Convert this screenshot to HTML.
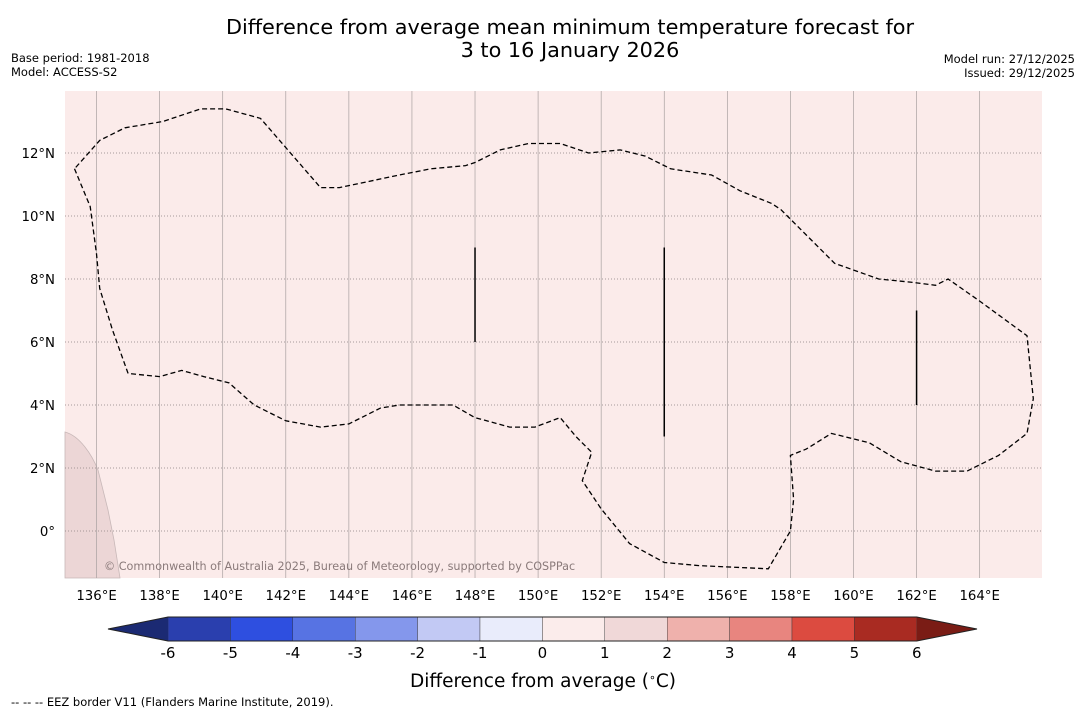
<!DOCTYPE html>
<html><head><meta charset="utf-8"><style>
body{margin:0;background:#fff;font-family:"Liberation Sans","DejaVu Sans",sans-serif;}
</style></head><body>
<svg width="1085" height="713" xmlns="http://www.w3.org/2000/svg" font-family="DejaVu Sans, Liberation Sans, sans-serif">
<text x="570" y="34" text-anchor="middle" font-size="20.8">Difference from average mean minimum temperature forecast for</text>
<text x="570" y="57" text-anchor="middle" font-size="20.8">3 to 16 January 2026</text>
<text x="11" y="62" font-size="11.5">Base period: 1981-2018</text>
<text x="11" y="76" font-size="11.5">Model: ACCESS-S2</text>
<text x="1075" y="63" font-size="11.5" text-anchor="end">Model run: 27/12/2025</text>
<text x="1075" y="77" font-size="11.5" text-anchor="end">Issued: 29/12/2025</text>
<rect x="65" y="91" width="977" height="487" fill="#fbebea"/>
<path d="M65,432 C80,436 92,455 98,470 L108,510 L114,540 L120,578 L65,578 Z" fill="#ecd6d6" stroke="#c8b8b8" stroke-width="0.8"/>
<g id="grid"></g>
<g id="eez"></g>
<g id="axes"></g>
<text x="104" y="570" font-size="11.2" fill="#8a7a7a">© Commonwealth of Australia 2025, Bureau of Meteorology, supported by COSPPac</text>
<g id="cbar"></g>
<text x="543" y="687" text-anchor="middle" font-size="18.5">Difference from average (<tspan baseline-shift="super" font-size="11">∘</tspan>C)</text>
<text x="11" y="706" font-size="11.5">--  --  -- EEZ border V11 (Flanders Marine Institute, 2019).</text>
</svg>
<script>
const lonTicks=[136,138,140,142,144,146,148,150,152,154,156,158,160,162,164];
const latTicks=[0,2,4,6,8,10,12];
const eezLon=[135.3,135.8,136.0,136.1,136.5,137.0,138.0,138.7,139.4,140.2,141.0,142.0,143.1,144.0,145.0,145.6,146.6,147.3,148.0,149.1,149.9,150.7,151.2,151.7,151.4,152.0,152.9,154.0,155.1,157.3,158.0,158.1,158.0,158.5,159.3,160.5,161.5,162.6,163.6,164.6,165.5,165.7,165.5,164.0,163.0,162.6,161.8,160.8,159.4,157.7,157.4,156.4,155.5,154.2,153.4,152.6,151.6,150.7,149.7,148.8,148.0,147.7,146.6,145.6,143.7,143.1,141.2,140.1,139.3,138.1,136.9,136.1,135.3];
const eezLat=[11.5,10.3,8.8,7.7,6.4,5.0,4.9,5.1,4.9,4.7,4.0,3.5,3.3,3.4,3.9,4.0,4.0,4.0,3.6,3.3,3.3,3.6,3.0,2.5,1.6,0.7,-0.4,-1.0,-1.1,-1.2,0.0,1.0,2.4,2.6,3.1,2.8,2.2,1.9,1.9,2.4,3.1,4.2,6.2,7.3,8.0,7.8,7.9,8.0,8.5,10.2,10.4,10.8,11.3,11.5,11.9,12.1,12.0,12.3,12.3,12.1,11.7,11.6,11.5,11.3,10.9,10.9,13.1,13.4,13.4,13.0,12.8,12.4,11.5];
const segLon=[148,154,162];
const segLat0=[6,3,4];
const segLat1=[9,9,7];
const cbLevels=[-6,-5,-4,-3,-2,-1,0,1,2,3,4,5,6];
const cbColors=["#2a3fae","#2e4fe0","#5773e3","#8497ec","#c2c9f4","#e9ecfb","#fbeceb","#f0d8d8","#efb1ac","#e8857f","#dc4b40","#a92b22"];
const NS="http://www.w3.org/2000/svg";
const X=lon=>65+(lon-135)*31.54;
const Y=lat=>531-lat*31.5;
function mk(t,a,p){const e=document.createElementNS(NS,t);for(const k in a)e.setAttribute(k,a[k]);p.appendChild(e);return e;}
const grid=document.getElementById('grid'),axes=document.getElementById('axes'),eez=document.getElementById('eez'),cbar=document.getElementById('cbar');
lonTicks.forEach(l=>{
 const ln=mk('line',{x1:X(l),x2:X(l),y1:91,y2:578,stroke:'#a8a0a0','stroke-width':0.7},grid);
 
 
 const t=mk('text',{x:X(l),y:600,'text-anchor':'middle','font-size':13.3},axes);t.textContent=l+'°E';
 
 
});
latTicks.forEach(l=>{
 const ln=mk('line',{x1:65,x2:1042,y1:Y(l),y2:Y(l),stroke:'#8a8080','stroke-width':0.8,'stroke-dasharray':'1,2'},grid);
 
 
 const t=mk('text',{x:55,y:Y(l)+5,'text-anchor':'end','font-size':13.3},axes);t.textContent=l===0?'0°':l+'°N';
 
 
});
const pts=eezLon.map((l,i)=>X(l).toFixed(1)+','+Y(eezLat[i]).toFixed(1)).join(' ');
const pl=mk('polyline',{points:pts,fill:'none',stroke:'#000','stroke-width':1.3,'stroke-dasharray':'5,3'},eez);


segLon.forEach((l,i)=>{
 const s=mk('line',{x1:X(l),x2:X(l),y1:Y(segLat0[i]),y2:Y(segLat1[i]),stroke:'#000','stroke-width':1.5},eez);
 
 
});
const cx0=168,cw=62.4,cy=617,ch=24;
const CX=v=>cx0+(v-cbLevels[0])*cw;
cbColors.forEach((c,i)=>{
 const r=mk('rect',{x:CX(cbLevels[i]),y:cy,width:cw,height:ch,fill:c,stroke:'#333','stroke-width':0.4},cbar);
 
 
});
const tl=mk('polygon',{points:`${CX(-6)},${cy} ${CX(-6)},${cy+ch} 108,${cy+ch/2}`,fill:'#1b2a73'},cbar);


const tr=mk('polygon',{points:`${CX(6)},${cy} ${CX(6)},${cy+ch} 977,${cy+ch/2}`,fill:'#7a1c15'},cbar);


const ol=mk('polygon',{points:`108,${cy+ch/2} ${CX(-6)},${cy} ${CX(6)},${cy} 977,${cy+ch/2} ${CX(6)},${cy+ch} ${CX(-6)},${cy+ch}`,fill:'none',stroke:'#222','stroke-width':1},cbar);


cbLevels.forEach(v=>{
 const t=mk('text',{x:CX(v),y:658,'text-anchor':'middle','font-size':15},cbar);t.textContent=v;
 
 
});
</script>
</body></html>
